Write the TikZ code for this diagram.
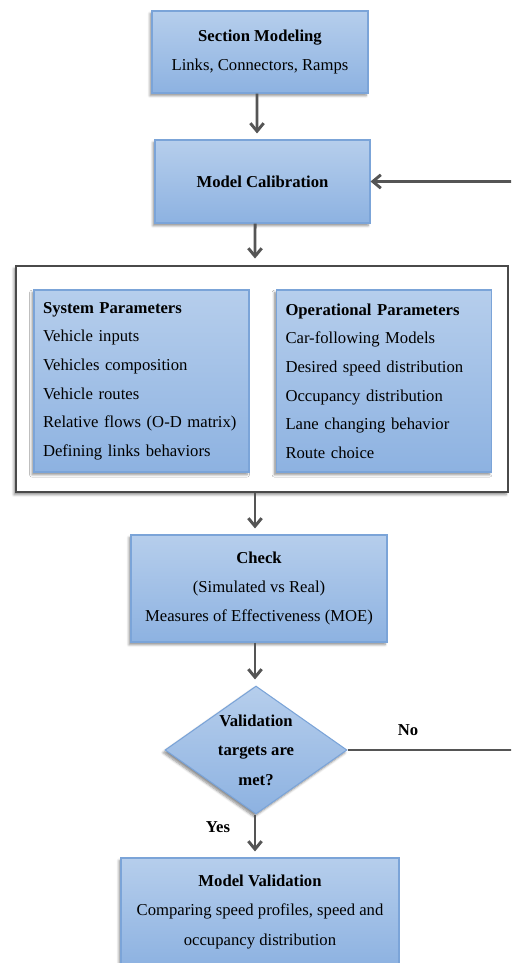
\documentclass[tikz,border=0pt]{standalone}
\usepackage{fontspec}
\setmainfont{Liberation Serif}
\usetikzlibrary{arrows.meta,shapes.geometric,shadows.blur}

\definecolor{boxtop}{HTML}{B6CEEC}
\definecolor{boxbot}{HTML}{8DB2E1}
\definecolor{boxline}{HTML}{7BA4D8}
\definecolor{linkgray}{HTML}{555555}
\definecolor{framegray}{HTML}{4A4A4A}

\begin{document}
\begin{tikzpicture}[x=0.75pt,y=-0.75pt,
  font=\fontsize{12.5}{22}\selectfont,
  softshadow/.style={blur shadow={shadow xshift=-1.5pt,shadow yshift=-2pt,
      shadow opacity=45,shadow blur steps=6}},
  flowbox/.style={draw=boxline,line width=0.8pt,top color=boxtop,
      bottom color=boxbot,align=center,inner sep=0pt,softshadow},
  listbox/.style={flowbox,align=left,text width=147.75pt,
      minimum width=161.25pt,minimum height=136.5pt,
      font=\fontsize{12.5}{21.5}\selectfont},
  decision/.style={flowbox,diamond,aspect=1.42,
      minimum width=136.5pt,minimum height=96pt,font=\fontsize{12.5}{22}\selectfont\bfseries},
  groupframe/.style={draw=framegray,line width=2.2pt,fill=white,softshadow},
  link/.style={draw=linkgray,line width=2.2pt,
      -{Straight Barb[length=6pt,width=10pt]}},
  vlink/.style={link,shorten >=4.5pt},
  tag/.style={font=\fontsize{12.5}{22}\selectfont\bfseries}
]
\clip (0,0) rectangle (511,963);

% process boxes
\node[flowbox,minimum width=162pt,minimum height=61.5pt] (sec) at (260,52)
  {\textbf{Section Modeling}\\Links, Connectors, Ramps};
\node[flowbox,minimum width=161.25pt,minimum height=62.25pt] (cal) at (262.5,181.5)
  {\textbf{Model Calibration}};

% parameter group
\node[groupframe,minimum width=369pt,minimum height=169.5pt] (grp) at (262,379) {};
\node[listbox] (sys) at (141.5,381)
  {\textbf{System Parameters}\\Vehicle inputs\\Vehicles composition\\Vehicle routes\\
   Relative flows (O-D matrix)\\Defining links behaviors};
\node[listbox] (ops) at (384,381)
  {\textbf{Operational Parameters}\\Car-following Models\\Desired speed distribution\\
   Occupancy distribution\\Lane changing behavior\\Route choice};

\node[flowbox,minimum width=192pt,minimum height=80.25pt] (chk) at (259,588.5)
  {\textbf{Check}\\(Simulated vs Real)\\Measures of Effectiveness (MOE)};

\node[decision] (dia) at (256,750) {Validation\\targets are\\met?};

\node[flowbox,minimum width=208.5pt,minimum height=81pt] (val) at (260,912)
  {\textbf{Model Validation}\\Comparing speed profiles, speed and\\occupancy distribution};

% connectors
\draw[vlink] ([xshift=-2.25pt]sec.south) -- ([xshift=-4.1pt]cal.north);
\draw[vlink] ([xshift=-5.6pt]cal.south) -- ([xshift=-5.25pt]grp.north);
\draw[vlink] ([xshift=-5.25pt]grp.south) -- ([xshift=-3pt]chk.north);
\draw[vlink] ([xshift=-3pt]chk.south) -- ([xshift=-0.75pt]dia.north);
\draw[vlink] ([xshift=-0.75pt]dia.south) -- ([xshift=-3.75pt]val.north);

\coordinate (rt) at (514,0);
\draw[link] (dia.east) -- (dia.east -| rt) |- (cal.east);

\node[tag] (no) at (408,730) {No};
\node[tag] (yes) at (218,827) {Yes};
\end{tikzpicture}
\end{document}
